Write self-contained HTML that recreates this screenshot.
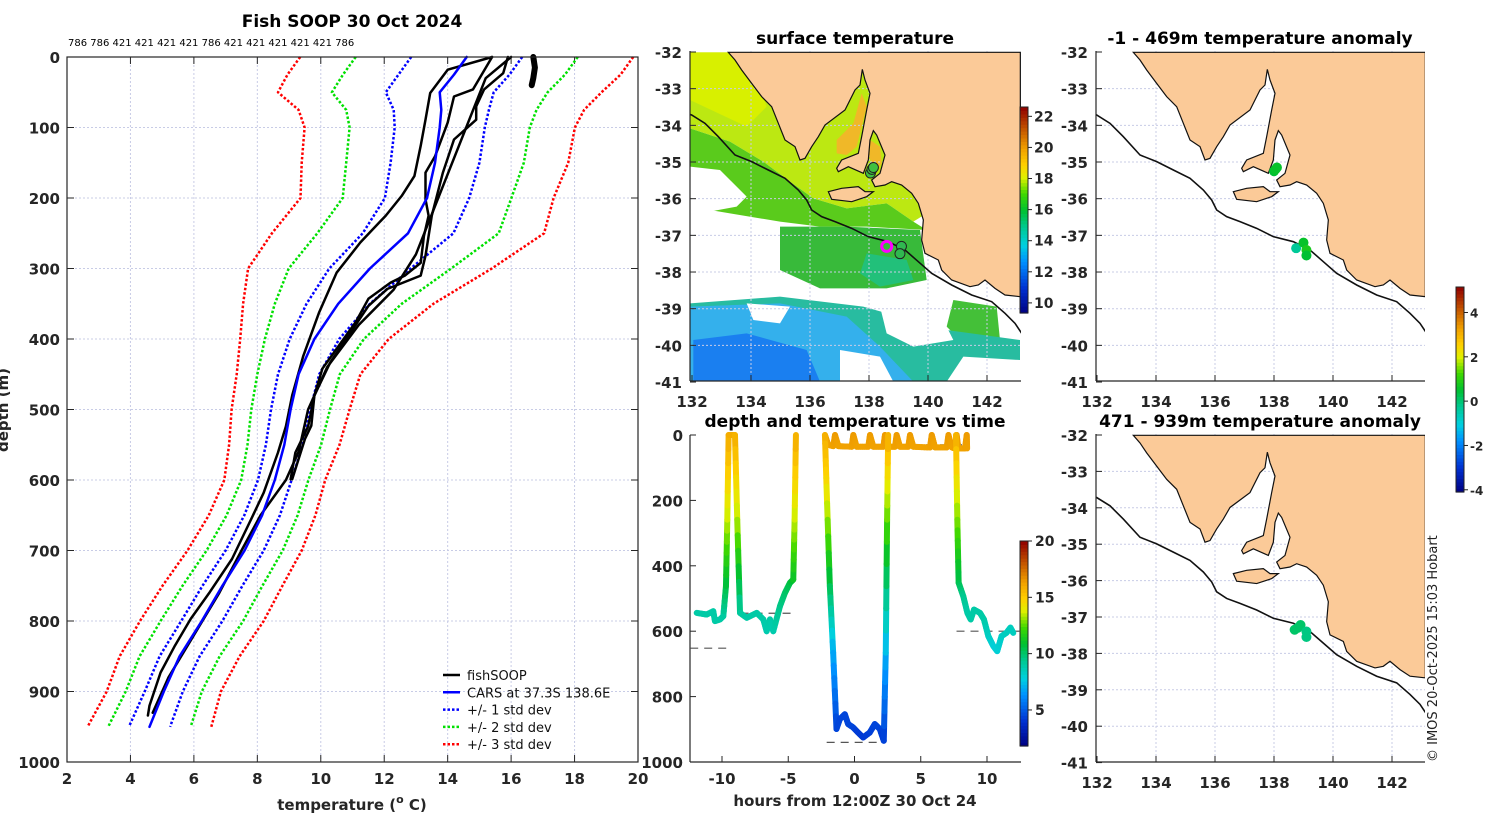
<!DOCTYPE html>
<html><head><meta charset="utf-8"><style>
html,body{margin:0;padding:0;background:#fff;}
svg text{font-family:"DejaVu Sans","Liberation Sans",sans-serif;}
.tk{font-size:15px;font-weight:bold;fill:#262626;}
.ttl{font-size:17px;font-weight:bold;fill:#000;}
.cb{font-size:13px;font-weight:bold;fill:#262626;}
</style></head><body>
<svg id="fig" width="1500" height="820" viewBox="0 0 1500 820" xmlns="http://www.w3.org/2000/svg">
<text class="ttl" x="352" y="27" text-anchor="middle">Fish SOOP 30 Oct 2024</text>
<text x="68" y="46" font-size="10" fill="#000">786 786 421 421 421 421 786 421 421 421 421 421 786</text>
<text class="tk" x="8" y="410" text-anchor="middle" transform="rotate(-90 8 410)" font-size="16">depth (m)</text>
<text class="tk" x="352" y="810" text-anchor="middle" font-size="16">temperature (<tspan font-size="11" dy="-7">o</tspan><tspan dy="7"> C)</tspan></text>
<text class="ttl" x="855" y="44" text-anchor="middle">surface temperature</text>
<text class="ttl" x="855" y="427" text-anchor="middle">depth and temperature vs time</text>
<text class="tk" x="855" y="806" text-anchor="middle" font-size="16">hours from 12:00Z 30 Oct 24</text>
<text class="ttl" x="1260" y="44" text-anchor="middle">-1 - 469m temperature anomaly</text>
<text class="ttl" x="1260" y="427" text-anchor="middle">471 - 939m temperature anomaly</text>
<text x="1437" y="762" font-size="13" fill="#222" transform="rotate(-90 1437 762)">© IMOS 20-Oct-2025 15:03 Hobart</text>
</svg>
<script>
// ---------- profile data ----------
const carsDepth=[0,25,50,75,100,150,200,250,300,350,400,450,500,550,600,650,700,750,800,850,900,950];
const carsTemp=[14.6,14.2,13.75,13.8,13.75,13.6,13.35,12.75,11.55,10.55,9.8,9.3,9.05,8.85,8.55,8.15,7.6,6.9,6.25,5.55,5.05,4.6];
const carsStd=[1.75,1.75,1.7,1.5,1.42,1.4,1.33,1.43,1.28,1.0,0.78,0.65,0.62,0.58,0.53,0.56,0.6,0.63,0.65,0.63,0.6,0.65];
const p1Depth=[0,18,51,89,126,169,197,225,263,306,362,424,480,524,561,618,656,712,759,797,835,873,920,934];
const p1Temp=[15.4,14.0,13.45,13.3,13.15,12.95,12.55,12.05,11.25,10.5,9.95,9.45,9.1,8.9,8.65,8.2,7.8,7.2,6.5,5.9,5.4,4.95,4.6,4.55];
const p2Depth=[0,46,56,93,141,164,202,225,254,292,310,320,343,376,414,442,480,524,561,599];
const p2Temp=[15.4,14.8,14.2,14.0,13.6,13.3,13.3,13.4,13.25,13.15,12.65,12.2,11.5,11.1,10.5,10.05,9.8,9.6,9.2,9.05];
const p3Depth=[0,23,46,70,89,117,164,225,282,310,329,353,400,433,480,523,542,599];
const p3Temp=[15.9,15.75,15.15,14.9,14.9,14.2,13.85,13.5,13.3,13.15,12.1,11.5,10.8,10.3,9.8,9.7,9.5,9.1];
const p4Depth=[0,30,280,330,380,440,500,560,600,650,700,760,820,880,930];
const p4Temp=[16.0,15.2,13.0,12.3,11.2,10.2,9.6,9.3,8.9,8.1,7.5,6.8,6.0,5.2,4.7];
const p5Depth=[0,15,30,40];
const p5Temp=[16.7,16.75,16.7,16.65];
// ---------- time series data ----------
const segAHour=[-11.91,-11.16,-10.66,-10.53,-10.15,-9.90,-9.70,-9.60,-9.50,-9.02,-8.85,-8.64,-8.13,-7.38,-6.88,-6.63,-6.38,-6.13,-5.62,-5.25,-4.87,-4.62,-4.52,-4.42];
const segADepth=[544,549,539,569,564,554,462,259,0,0,259,544,559,544,564,600,564,600,523,483,452,442,259,0];
const segATemp=[9,9,9,9,9,9,10.5,13.5,16,16,13.5,9.2,9,9,9,8.8,9,8.8,9.5,10,10.5,11,13.5,16];
const segBHour=[-2.23,-2.11,-1.86,-1.61,-1.36,-1.11,-0.73,-0.48,-0.11,0.27,0.65,1.15,1.53,1.91,2.21,2.36,2.46,2.54];
const segBDepth=[0,158,462,666,899,869,854,884,894,910,925,910,884,899,935,666,259,0];
const segBTemp=[16,14.5,10.5,7,4.5,4.5,4.5,4.5,4.5,4.3,4.2,4.3,4.5,4.5,4.2,7,12.5,16];
const segSHour=[-2.23,-1.98,-1.60,-1.47,-1.22,-0.21,-0.09,0.16,1.04,1.17,1.42,2.18,2.30,2.55,3.06,3.18,3.43,4.06,4.19,4.44,5.70,5.83,6.08,6.96,7.09,7.35,7.58,7.71,7.84,8.34,8.47,8.5];
const segSDepth=[0,30,34,0,34,36,0,36,36,0,36,36,0,36,36,0,36,36,0,36,38,0,38,38,0,38,41,0,41,41,0,41];
const segSTemp=[16.3,16.3,16.3,16.5,16.3,16.3,16.5,16.3,16.3,16.5,16.3,16.3,16.5,16.3,16.3,16.5,16.3,16.3,16.5,16.3,16.3,16.5,16.3,16.3,16.5,16.3,16.3,16.5,16.3,16.3,16.5,16.3];
const segCHour=[7.66,7.76,7.86,8.21,8.52,8.77,9.02,9.47,9.77,10.10,10.47,10.77,11.10,11.47,11.77,11.98];
const segCDepth=[0,259,452,493,544,564,534,544,564,615,645,661,615,605,589,605];
const segCTemp=[16,13,10.5,9.5,9,9,9,9,9,8.5,8,8,8.3,8.5,8.5,8.5];
const dashStart=[-12.4,-8.6,-2.1,-2.0,7.7];
const dashEnd=[-9.4,-4.4,2.3,8.5,12.5];
const dashDepth=[652,545,940,30,600];
// ---------- map markers ----------
const sstMarkLon=[138.05,138.1,138.15,139.1,139.05];
const sstMarkLat=[-35.3,-35.2,-35.15,-37.3,-37.5];
const anomTopLon=[138.0,138.05,138.1,138.75,139.0,139.1,139.1];
const anomTopLat=[-35.25,-35.2,-35.15,-37.35,-37.2,-37.4,-37.55];
const anomTopVal=[0.5,0.6,0.6,-0.3,0.6,0.8,0.5];
const anomBotLon=[138.7,138.8,138.9,139.1,139.1];
const anomBotLat=[-37.35,-37.3,-37.22,-37.4,-37.55];
const anomBotVal=[0.1,0.1,0.1,-0.1,-0.1];

const NS='http://www.w3.org/2000/svg';
const svg=document.getElementById('fig');
function mk(tag,attrs,parent){const e=document.createElementNS(NS,tag);for(const k in attrs)e.setAttribute(k,attrs[k]);(parent||svg).appendChild(e);return e;}
function txt(x,y,s,cls,anchor,parent){const t=mk('text',{x:x,y:y,class:cls,'text-anchor':anchor||'middle'},parent);t.textContent=s;return t;}

const stops=[[0,[0,0,128]],[0.12,[0,48,208]],[0.25,[0,144,255]],[0.33,[0,208,224]],[0.42,[0,200,144]],[0.5,[0,192,48]],[0.58,[64,216,0]],[0.66,[224,240,0]],[0.72,[255,208,0]],[0.8,[240,160,0]],[0.9,[192,80,0]],[1,[144,0,0]]];
function cmap(t){t=Math.max(0,Math.min(1,t));for(let i=1;i<stops.length;i++){if(t<=stops[i][0]){const a=stops[i-1],b=stops[i];const f=(t-a[0])/(b[0]-a[0]);const c=a[1].map((v,j)=>Math.round(v+(b[1][j]-v)*f));return 'rgb('+c.join(',')+')';}}return 'rgb(144,0,0)';}

// ================= LEFT PROFILE PANEL =================
const LX0=67,LX1=638,LY0=57,LY1=762;
const X=T=>LX0+(T-2)/18*(LX1-LX0);
const Y=d=>LY0+d/1000*(LY1-LY0);
const gL=mk('g',{});


for(let t=4;t<20;t+=2){const l=mk('line',{x1:X(t),x2:X(t),y1:LY0,y2:LY1,stroke:'#c8cce6','stroke-dasharray':'2,2','stroke-width':1},gL);}
for(let d=100;d<1000;d+=100){const l=mk('line',{x1:LX0,x2:LX1,y1:Y(d),y2:Y(d),stroke:'#c8cce6','stroke-dasharray':'2,2','stroke-width':1},gL);}
for(let t=2;t<=20;t+=2){mk('line',{x1:X(t),x2:X(t),y1:LY1,y2:LY1-7,stroke:'#262626'},gL);mk('line',{x1:X(t),x2:X(t),y1:LY0,y2:LY0+7,stroke:'#262626'},gL);
 const tl=txt(X(t),784,String(t),'tk','middle',gL);}
for(let d=0;d<=1000;d+=100){mk('line',{x1:LX0,x2:LX0+7,y1:Y(d),y2:Y(d),stroke:'#262626'},gL);mk('line',{x1:LX1,x2:LX1-7,y1:Y(d),y2:Y(d),stroke:'#262626'},gL);
 const tl=txt(60,Y(d)+6,String(d),'tk','end',gL);}
function poly(ds,ts,color,w,dash,name){const pts=ds.map((d,i)=>X(ts[i]).toFixed(1)+','+Y(d).toFixed(1)).join(' ');
 const p=mk('polyline',{points:pts,fill:'none',stroke:color,'stroke-width':w,'stroke-linejoin':'round','stroke-linecap':dash?'butt':'round'},gL);if(dash)p.setAttribute('stroke-dasharray',dash);
 return p;}
const stdColors=['#0000ff','#00e000','#ff0000'];
for(let k=1;k<=3;k++){
 poly(carsDepth,carsTemp.map((m,i)=>m-k*carsStd[i]),stdColors[k-1],2.5,'2.5,2','std-minus-'+k);
 poly(carsDepth,carsTemp.map((m,i)=>m+k*carsStd[i]),stdColors[k-1],2.5,'2.5,2','std-plus-'+k);
}
poly(p1Depth,p1Temp,'#000',2.5,null,'fishsoop-profile-1');
poly(p2Depth,p2Temp,'#000',2.5,null,'fishsoop-profile-2');
poly(p3Depth,p3Temp,'#000',2.5,null,'fishsoop-profile-3');
poly(p4Depth,p4Temp,'#000',2.5,null,'fishsoop-profile-4');
poly(p5Depth,p5Temp,'#000',6,null,'fishsoop-profile-surface');
poly(carsDepth,carsTemp,'#0000ff',2.5,null,'cars-mean-profile');
mk('rect',{x:LX0,y:LY0,width:LX1-LX0,height:LY1-LY0,fill:'none',stroke:'#262626','stroke-width':1.2},gL);
// legend
const legLabels=['fishSOOP','CARS at 37.3S 138.6E','+/- 1 std dev','+/- 2 std dev','+/- 3 std dev'];
const legColors=['#000','#0000ff','#0000ff','#00e000','#ff0000'];
const legDash=[null,null,'2.5,2','2.5,2','2.5,2'];
const legG=mk('g',{},gL);
legLabels.forEach((s,i)=>{const y=675+i*17.3;const l=mk('line',{x1:443,x2:460,y1:y,y2:y,stroke:legColors[i],'stroke-width':2.5},legG);if(legDash[i])l.setAttribute('stroke-dasharray',legDash[i]);
 const t=mk('text',{x:467,y:y+5,'font-size':13,fill:'#111'},legG);t.textContent=s;});

// ================= MAPS =================
// coastline traced in map-local units (convert to lon/lat)
const coastTrace=[[130,37],[1006,37],[1006,770],[960,765],[930,745],[900,720],[880,735],[855,740],[800,720],[770,690],[760,660],[720,640],[710,600],[715,540],[700,490],[680,460],[650,435],[620,425],[600,435],[570,440],[560,420],[585,400],[600,345],[575,285],[565,272],[555,300],[550,360],[535,400],[490,380],[460,395],[455,385],[470,360],[520,340],[530,290],[545,210],[555,160],[540,120],[532,88],[525,135],[510,150],[480,210],[420,255],[400,290],[380,320],[360,355],[345,360],[330,320],[300,300],[280,250],[260,200],[230,170],[200,130],[170,90],[150,60]];
const kiTrace=[[430,455],[470,445],[520,440],[540,455],[565,455],[545,470],[500,485],[440,478]];
const shelfTrace=[[0,218],[20,225],[60,250],[100,290],[150,345],[200,365],[250,390],[300,415],[340,450],[365,480],[380,510],[410,530],[450,545],[500,565],[550,590],[610,605],[660,630],[700,665],[740,700],[800,735],[860,765],[920,785],[960,820],[990,850],[1010,880]];
const tr2ll=(p,xo)=>[132+(p[0]/3-xo)/29.5,-32-(p[1]/3-12)/36.67];
const coastLL=coastTrace.map(p=>tr2ll(p,7)), kiLL=kiTrace.map(p=>tr2ll(p,7)), shelfLL=shelfTrace.map(p=>tr2ll(p,7));
// SST field patches (traced, map-local)
const sstPatches=[
 ['#bce812',[[30,37],[700,37],[740,520],[700,545],[620,490],[500,505],[400,475],[330,425],[250,365],[150,305],[30,265]]],
 ['#d8f000',[[30,37],[200,37],[260,200],[200,260],[30,180]]],
 ['#5acb1c',[[30,265],[150,305],[250,365],[330,425],[400,475],[500,505],[620,490],[700,545],[740,570],[560,560],[420,560],[300,545],[150,520],[30,500]]],
 ['#ffffff',[[30,380],[120,390],[200,470],[170,500],[60,520],[30,500]]],
 ['#f0b828',[[470,300],[520,250],[545,160],[560,200],[530,320],[500,345],[470,340]]],
 ['#f0b828',[[570,300],[600,320],[605,370],[585,400],[568,350]]],
 ['#38ba3a',[[300,560],[500,560],[720,570],[740,720],[620,745],[420,745],[300,690]]],
 ['#22c07a',[[560,640],[680,660],[700,720],[600,740],[540,700]]],
 ['#44c038',[[820,780],[950,800],[960,900],[860,920],[800,860]]],
 ['#28bca0',[[30,790],[300,770],[550,800],[800,870],[1020,900],[1020,1025],[30,1025]]],
 ['#34b0ec',[[30,800],[300,790],[500,830],[600,920],[700,1025],[30,1025]]],
 ['#1a7ff0',[[40,900],[200,880],[380,930],[420,1025],[40,1025]]],
 ['#ffffff',[[600,800],[780,820],[820,900],[700,920],[620,880]]],
 ['#ffffff',[[200,790],[330,800],[300,850],[220,840]]],
 ['#ffffff',[[480,930],[600,950],[640,1025],[480,1025]]],
 ['#ffffff',[[850,950],[1020,960],[1020,1025],[800,1025]]]
];
function drawMap(cfg){
 const {x0,y0,x1,y1,ky,name}=cfg;
 const g=mk('g',{});
 const P=(lon,lat)=>[x0+(lon-132)*29.5,y0+(-32-lat)*ky];
 const left=cfg.left, top=cfg.top;
 const cid='clip-'+name;const cp=mk('clipPath',{id:cid},g);mk('rect',{x:left,y:top,width:x1-left,height:y1-top},cp);
 const inner=mk('g',{'clip-path':'url(#'+cid+')'},g);
 mk('rect',{x:left,y:top,width:x1-left,height:y1-top,fill:'#fff'},inner);
 if(cfg.sst){sstPatches.forEach(sp=>{const pts=sp[1].map(p=>P(...tr2ll(p,12))).map(p=>p.join(',')).join(' ');mk('polygon',{points:pts,fill:sp[0]},inner);});}
 for(let lon=134;lon<=142;lon+=2){const x=P(lon,-32)[0];mk('line',{x1:x,x2:x,y1:top,y2:y1,stroke:'#c8cce6','stroke-dasharray':'2,2'},inner);}
 for(let lat=-33;lat>=-40;lat--){const y=P(132,lat)[1];mk('line',{x1:left,x2:x1,y1:y,y2:y,stroke:'#c8cce6','stroke-dasharray':'2,2'},inner);}
 const land=mk('polygon',{points:coastLL.map(p=>P(...p).join(',')).join(' '),fill:'#fbca98',stroke:'#111','stroke-width':1.2},inner);
 
 mk('polygon',{points:kiLL.map(p=>P(...p).join(',')).join(' '),fill:'#fbca98',stroke:'#111','stroke-width':1.2},inner);
 mk('polyline',{points:shelfLL.map(p=>P(...p).join(',')).join(' '),fill:'none',stroke:'#111','stroke-width':1.6},inner);
 cfg.marks(inner,P);
 mk('line',{x1:left,x2:left,y1:top,y2:y1,stroke:'#262626','stroke-width':1.2},g);
 mk('line',{x1:left,x2:x1,y1:y1,y2:y1,stroke:'#262626','stroke-width':1.2},g);
 for(let lon=132;lon<=142;lon+=2){const x=P(lon,-32)[0];mk('line',{x1:x,x2:x,y1:y1,y2:y1-6,stroke:'#262626'},g);
  const t=txt(x,y1+26,String(lon),'tk','middle',g);}
 for(let lat=-32;lat>=-41;lat--){const y=P(132,lat)[1];mk('line',{x1:left,x2:left+6,y1:y,y2:y,stroke:'#262626'},g);
  const t=txt(left-8,y+6,String(lat),'tk','end',g);}
}
drawMap({name:'sst-map',x0:692,y0:52,left:690,top:51,x1:1021,y1:381,ky:36.67,sst:true,marks:(g,P)=>{
 sstMarkLon.forEach((lon,i)=>{const p=P(lon,sstMarkLat[i]);const c=mk('circle',{cx:p[0],cy:p[1],r:5,fill:i<3?'#40c040':'#30b850',stroke:'#222','stroke-width':1},g);});
 const m=P(138.6,-37.3);const r=mk('circle',{cx:m[0],cy:m[1],r:5,fill:'none',stroke:'#ff00ff','stroke-width':3},g);}});
function anomMarks(lons,lats,vals){return (g,P)=>{lons.forEach((lon,i)=>{const p=P(lon,lats[i]);const c=mk('circle',{cx:p[0],cy:p[1],r:5,fill:cmap((vals[i]+4.1)/9.25)},g);});};}
drawMap({name:'anomaly-map-top',x0:1097,y0:52,left:1096,top:51,x1:1425,y1:381,ky:36.67,sst:false,marks:anomMarks(anomTopLon,anomTopLat,anomTopVal)});
drawMap({name:'anomaly-map-bottom',x0:1097,y0:435,left:1096,top:434,x1:1425,y1:762,ky:36.4,sst:false,marks:anomMarks(anomBotLon,anomBotLat,anomBotVal)});

// ================= colorbars =================
function colorbar(name,x,y0,y1,vmin,vmax,ticks,labx,fs){
 const g=mk('g',{});
 const n=60,h=(y1-y0)/n;
 for(let i=0;i<n;i++){mk('rect',{x:x,y:y1-(i+1)*h,width:8,height:h+0.6,fill:cmap((i+0.5)/n)},g);}
 mk('rect',{x:x,y:y0,width:8,height:y1-y0,fill:'none',stroke:'#222','stroke-width':1},g);
 ticks.forEach(v=>{const y=y1-(v-vmin)/(vmax-vmin)*(y1-y0);mk('line',{x1:x+8,x2:x+12,y1:y,y2:y,stroke:'#222'},g);
  const t=mk('text',{x:labx,y:y+5,'font-size':fs,'font-weight':'bold',fill:'#262626'},g);t.textContent=String(v);});
}
colorbar('sst-colorbar',1020,107,313,9.35,22.6,[10,12,14,16,18,20,22],1034,14);
colorbar('anomaly-colorbar',1456,287,492,-4.1,5.15,[-4,-2,0,2,4],1470,12);
colorbar('time-colorbar',1020,541,746,1.8,20,[5,10,15,20],1035,14);

// ================= time panel =================
const TX0=690,TX1=1021,TY0=435,TY1=762;
const H=h=>722+(h+10)*13.25;
const D=d=>TY0+d/1000*(TY1-TY0);
const gT=mk('g',{});
mk('line',{x1:TX0,x2:TX0,y1:TY0,y2:TY1,stroke:'#262626','stroke-width':1.2},gT);
mk('line',{x1:TX0,x2:TX1,y1:TY1,y2:TY1,stroke:'#262626','stroke-width':1.2},gT);
for(let h=-10;h<=10;h+=5){mk('line',{x1:H(h),x2:H(h),y1:TY1,y2:TY1-6,stroke:'#262626'},gT);const t=txt(H(h),784,String(h),'tk','middle',gT);}
for(let d=0;d<=1000;d+=200){mk('line',{x1:TX0,x2:TX0+6,y1:D(d),y2:D(d),stroke:'#262626'},gT);const t=txt(683,D(d)+6,String(d),'tk','end',gT);}
dashStart.forEach((s,i)=>{const l=mk('line',{x1:H(s),x2:H(dashEnd[i]),y1:D(dashDepth[i]),y2:D(dashDepth[i]),stroke:'#555','stroke-width':1.2,'stroke-dasharray':'8,6'},gT);});
function track(hs,ds,ts,name){const g=mk('g',{},gT);
 for(let i=0;i<hs.length-1;i++){const n=6;for(let k=0;k<n;k++){const f0=k/n,f1=(k+1)/n;
  const h0=hs[i]+(hs[i+1]-hs[i])*f0,h1=hs[i]+(hs[i+1]-hs[i])*f1,d0=ds[i]+(ds[i+1]-ds[i])*f0,d1=ds[i]+(ds[i+1]-ds[i])*f1,tt=ts[i]+(ts[i+1]-ts[i])*(f0+f1)/2;
  mk('line',{x1:H(h0),y1:D(d0),x2:H(h1),y2:D(d1),stroke:cmap((tt-1.8)/18.2),'stroke-width':6,'stroke-linecap':'round'},g);}}}
track(segSHour,segSDepth,segSTemp,'surface-track');
track(segAHour,segADepth,segATemp,'dive-track-a');
track(segBHour,segBDepth,segBTemp,'dive-track-b');
track(segCHour,segCDepth,segCTemp,'dive-track-c');
</script>
</body></html>
